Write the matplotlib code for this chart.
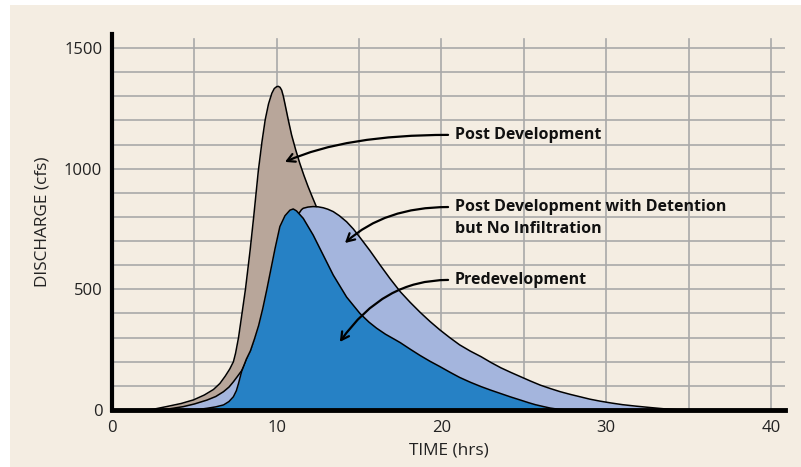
import matplotlib
matplotlib.use("Agg")
import matplotlib.pyplot as plt
from matplotlib.patches import Rectangle

# ---- data ----
post_x = [0, 2.0, 2.5, 3.3, 4.2, 4.95, 5.6, 6.16, 6.55, 6.87, 7.15, 7.37, 7.5, 7.68, 7.87, 8.1, 8.38,
          8.6, 8.88, 9.1, 9.3, 9.5, 9.7, 9.85, 10.0, 10.1, 10.2, 10.3, 10.4, 10.5, 10.7, 10.9, 11.15,
          11.4, 11.65, 11.9, 12.15, 12.4, 13.0, 14.0, 15.0, 16.0, 18.0, 20.0, 23.0, 26.0, 30.0, 41]
post_y = [0, 0, 3, 14, 27, 42, 62, 85, 110, 140, 170, 200, 235, 300, 390, 500, 660,
          800, 990, 1110, 1203, 1268, 1312, 1332, 1340, 1341, 1337, 1325, 1300, 1268, 1202, 1140, 1078,
          1022, 972, 926, 884, 843, 740, 580, 440, 330, 190, 110, 50, 15, 0, 0]

det_x = [0, 2.8, 3.5, 4.33, 5.0, 5.76, 6.3, 6.77, 7.1, 7.37, 7.6, 7.87, 8.1, 8.4, 9.0, 9.6, 10.3,
         11.0, 11.5, 11.61, 11.9, 12.21, 12.5, 12.82, 13.1, 13.43, 13.8, 14.24, 14.65, 15.05, 15.66,
         16.26, 16.87, 17.5, 18.1, 18.7, 19.3, 19.9, 20.5, 21.1, 21.75, 22.4, 23.0, 23.6, 24.2, 24.8,
         25.4, 26.0, 26.6, 27.2, 27.8, 28.4, 29.0, 29.6, 30.3, 31.0, 31.8, 32.7, 33.5, 34.3, 35.0, 41]
det_y = [0, 0, 5, 14, 25, 41, 56, 76, 95, 117, 138, 163, 195, 230, 340, 470, 640,
         780, 830, 836, 841, 843, 842, 838, 832, 822, 805, 780, 750, 715, 660,
         602, 545, 490, 446, 405, 367, 332, 300, 270, 244, 221, 197, 175, 156, 138,
         120, 103, 89, 76, 65, 55, 45, 37, 29, 22, 16, 10, 5, 1, 0, 0]

pre_x = [0, 5.0, 5.76, 6.3, 6.77, 7.1, 7.37, 7.55, 7.68, 7.87, 8.15, 8.4, 8.65, 8.9, 9.15, 9.4, 9.65,
         9.9, 10.19, 10.5, 10.8, 11.0, 11.2, 11.61, 12.21, 12.82, 13.43, 14.24, 15.05, 15.6, 16.06,
         16.6, 17.17, 17.5, 18.1, 18.7, 19.3, 19.9, 20.5, 21.1, 21.75, 22.4, 23.0, 23.6, 24.2, 24.8,
         25.3, 25.7, 26.2, 26.6, 27.1, 27.6, 41]
pre_y = [0, 0, 7, 13, 21, 35, 55, 80, 110, 160, 210, 245, 295, 350, 420, 500, 585,
         670, 760, 805, 828, 833, 825, 794, 725, 642, 559, 468, 400, 364, 339,
         314, 292, 279, 252, 226, 202, 180, 157, 135, 115, 97, 82, 68, 54, 41,
         30, 22, 14, 8, 3, 0, 0]

x_ticks = [0, 10, 20, 30, 40]
y_ticks = [0, 500, 1000, 1500]
label_lines = ["Post Development", "Post Development with Detention", "but No Infiltration",
               "Predevelopment"]

# ---- style ----
cream = "#F4EDE2"
brown = "#B8A69A"
lblue = "#A4B5DD"
dblue = "#2681C5"
grid = "#A9A9A9"

plt.rcParams['font.family'] = ['Open Sans', 'DejaVu Sans']

fig = plt.figure(figsize=(8.01, 4.67), dpi=100)
fig.patch.set_facecolor("white")
fig.patches.append(Rectangle((10 / 801, 0), 1, 462 / 467, transform=fig.transFigure,
                             facecolor=cream, edgecolor="none", zorder=-10))

ax = fig.add_axes([112 / 801, (467 - 410) / 467, 673 / 801, 376 / 467])
ax.set_facecolor("none")
ax.set_xlim(0, 40.85)
ax.set_ylim(0, 1558)

# grid
for yv in range(100, 1600, 100):
    ax.axhline(yv, color=grid, lw=1.2, zorder=0)
for xv in range(5, 45, 5):
    ax.plot([xv, xv], [0, 1537], color=grid, lw=1.2, zorder=0)

# areas
ax.fill_between(post_x, post_y, color=brown, zorder=2, lw=0)
ax.plot(post_x, post_y, color="black", lw=1.1, zorder=2.1)
ax.fill_between(det_x, det_y, color=lblue, zorder=3, lw=0)
ax.plot(det_x, det_y, color="black", lw=1.1, zorder=3.1)
ax.fill_between(pre_x, pre_y, color=dblue, zorder=4, lw=0)
ax.plot(pre_x, pre_y, color="black", lw=1.1, zorder=4.1)

# spines
for s in ["top", "right"]:
    ax.spines[s].set_visible(False)
ax.spines["left"].set_linewidth(3)
ax.spines["bottom"].set_linewidth(3.5)
ax.spines["left"].set_zorder(6)
ax.spines["bottom"].set_zorder(6)

ax.set_xticks(x_ticks)
ax.set_yticks(y_ticks)
ax.tick_params(length=0, labelsize=12, colors="#222222", pad=7)
ax.tick_params(axis="y", pad=7)

ax.set_xlabel("TIME (hrs)", fontsize=12.4, color="#222222", labelpad=5)
ax.set_ylabel("DISCHARGE (cfs)", fontsize=12.4, color="#222222", labelpad=10)

# labels and arrows
text_x = 20.8
text_y = [1140, 841, 750, 539]
for lab, ty in zip(label_lines, text_y):
    ax.text(text_x, ty, lab, ha="left", va="center", fontsize=11.5, fontweight="bold",
            color="#111111", zorder=8)

tails = [(20.4, 1140), (20.4, 841), (20.4, 539)]
heads = [(10.5, 1028), (14.14, 692), (13.83, 282)]
head_angles = [24, 42, 55]

for tl, hd, ang in zip(tails, heads, head_angles):
    ax.annotate("", xy=hd, xytext=tl,
                arrowprops=dict(arrowstyle="->,head_length=0.55,head_width=0.3",
                                connectionstyle=f"angle3,angleA=0,angleB={ang}", lw=1.6,
                                color="black", shrinkA=0, shrinkB=0),
                zorder=8)

fig.savefig("out.png", dpi=100, facecolor=fig.get_facecolor())
